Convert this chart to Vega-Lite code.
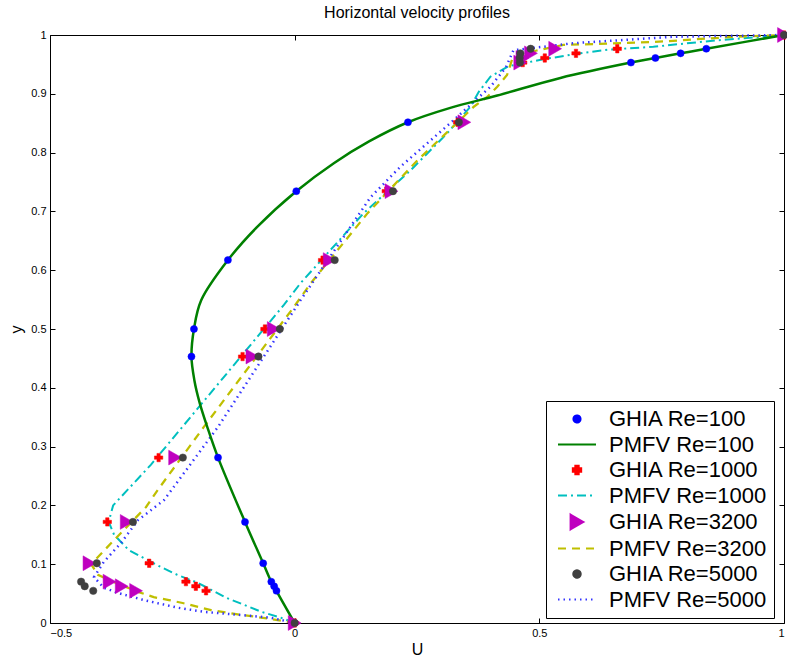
{
  "$schema": "https://vega.github.io/schema/vega-lite/v6.json",
  "width": 734,
  "height": 588,
  "autosize": {"type": "none"},
  "padding": {"left": 50, "top": 35, "right": 3, "bottom": 41},
  "background": "white",
  "title": {"text": "Horizontal velocity profiles", "fontSize": 16, "fontWeight": "normal", "font": "Liberation Sans", "color": "black", "offset": 6, "anchor": "middle"},
  "config": {
    "font": "Liberation Sans",
    "view": {"stroke": "black", "strokeWidth": 1},
    "axis": {"labelFont": "Liberation Sans", "labelFontSize": 11, "labelColor": "black", "tickColor": "black", "tickWidth": 1, "domain": false, "grid": false, "titleFont": "Liberation Sans", "titleFontWeight": "normal", "titleFontSize": 16, "titleColor": "black"},
    "legend": {"symbolStrokeWidth": 2}
  },
  "datasets": {
    "ghia": [
      {"s": "GHIA Re=100", "y": 1.0, "u": 1.0},
      {"s": "GHIA Re=100", "y": 0.9766, "u": 0.84123},
      {"s": "GHIA Re=100", "y": 0.9688, "u": 0.78871},
      {"s": "GHIA Re=100", "y": 0.9609, "u": 0.73722},
      {"s": "GHIA Re=100", "y": 0.9531, "u": 0.68717},
      {"s": "GHIA Re=100", "y": 0.8516, "u": 0.23151},
      {"s": "GHIA Re=100", "y": 0.7344, "u": 0.00332},
      {"s": "GHIA Re=100", "y": 0.6172, "u": -0.13641},
      {"s": "GHIA Re=100", "y": 0.5, "u": -0.20581},
      {"s": "GHIA Re=100", "y": 0.4531, "u": -0.2109},
      {"s": "GHIA Re=100", "y": 0.2813, "u": -0.15662},
      {"s": "GHIA Re=100", "y": 0.1719, "u": -0.1015},
      {"s": "GHIA Re=100", "y": 0.1016, "u": -0.06434},
      {"s": "GHIA Re=100", "y": 0.0703, "u": -0.04775},
      {"s": "GHIA Re=100", "y": 0.0625, "u": -0.04192},
      {"s": "GHIA Re=100", "y": 0.0547, "u": -0.03717},
      {"s": "GHIA Re=100", "y": 0.0, "u": 0.0},
      {"s": "GHIA Re=1000", "y": 1.0, "u": 1.0},
      {"s": "GHIA Re=1000", "y": 0.9766, "u": 0.65928},
      {"s": "GHIA Re=1000", "y": 0.9688, "u": 0.57492},
      {"s": "GHIA Re=1000", "y": 0.9609, "u": 0.51117},
      {"s": "GHIA Re=1000", "y": 0.9531, "u": 0.46604},
      {"s": "GHIA Re=1000", "y": 0.8516, "u": 0.33304},
      {"s": "GHIA Re=1000", "y": 0.7344, "u": 0.18719},
      {"s": "GHIA Re=1000", "y": 0.6172, "u": 0.05702},
      {"s": "GHIA Re=1000", "y": 0.5, "u": -0.0608},
      {"s": "GHIA Re=1000", "y": 0.4531, "u": -0.10648},
      {"s": "GHIA Re=1000", "y": 0.2813, "u": -0.27805},
      {"s": "GHIA Re=1000", "y": 0.1719, "u": -0.38289},
      {"s": "GHIA Re=1000", "y": 0.1016, "u": -0.2973},
      {"s": "GHIA Re=1000", "y": 0.0703, "u": -0.2222},
      {"s": "GHIA Re=1000", "y": 0.0625, "u": -0.20196},
      {"s": "GHIA Re=1000", "y": 0.0547, "u": -0.18109},
      {"s": "GHIA Re=1000", "y": 0.0, "u": 0.0},
      {"s": "GHIA Re=3200", "y": 1.0, "u": 1.0},
      {"s": "GHIA Re=3200", "y": 0.9766, "u": 0.53236},
      {"s": "GHIA Re=3200", "y": 0.9688, "u": 0.48296},
      {"s": "GHIA Re=3200", "y": 0.9609, "u": 0.46547},
      {"s": "GHIA Re=3200", "y": 0.9531, "u": 0.46101},
      {"s": "GHIA Re=3200", "y": 0.8516, "u": 0.34682},
      {"s": "GHIA Re=3200", "y": 0.7344, "u": 0.19791},
      {"s": "GHIA Re=3200", "y": 0.6172, "u": 0.07156},
      {"s": "GHIA Re=3200", "y": 0.5, "u": -0.04272},
      {"s": "GHIA Re=3200", "y": 0.4531, "u": -0.08636},
      {"s": "GHIA Re=3200", "y": 0.2813, "u": -0.24427},
      {"s": "GHIA Re=3200", "y": 0.1719, "u": -0.34323},
      {"s": "GHIA Re=3200", "y": 0.1016, "u": -0.41933},
      {"s": "GHIA Re=3200", "y": 0.0703, "u": -0.37827},
      {"s": "GHIA Re=3200", "y": 0.0625, "u": -0.35344},
      {"s": "GHIA Re=3200", "y": 0.0547, "u": -0.32407},
      {"s": "GHIA Re=3200", "y": 0.0, "u": 0.0},
      {"s": "GHIA Re=5000", "y": 1.0, "u": 1.0},
      {"s": "GHIA Re=5000", "y": 0.9766, "u": 0.48223},
      {"s": "GHIA Re=5000", "y": 0.9688, "u": 0.4612},
      {"s": "GHIA Re=5000", "y": 0.9609, "u": 0.45992},
      {"s": "GHIA Re=5000", "y": 0.9531, "u": 0.46036},
      {"s": "GHIA Re=5000", "y": 0.8516, "u": 0.33556},
      {"s": "GHIA Re=5000", "y": 0.7344, "u": 0.20087},
      {"s": "GHIA Re=5000", "y": 0.6172, "u": 0.08183},
      {"s": "GHIA Re=5000", "y": 0.5, "u": -0.03039},
      {"s": "GHIA Re=5000", "y": 0.4531, "u": -0.07404},
      {"s": "GHIA Re=5000", "y": 0.2813, "u": -0.22855},
      {"s": "GHIA Re=5000", "y": 0.1719, "u": -0.3305},
      {"s": "GHIA Re=5000", "y": 0.1016, "u": -0.40435},
      {"s": "GHIA Re=5000", "y": 0.0703, "u": -0.43643},
      {"s": "GHIA Re=5000", "y": 0.0625, "u": -0.42901},
      {"s": "GHIA Re=5000", "y": 0.0547, "u": -0.41165},
      {"s": "GHIA Re=5000", "y": 0.0, "u": 0.0}
    ],
    "green": [
      {"s": "PMFV Re=100", "o": 0, "u": 0.0, "y": 0.0},
      {"s": "PMFV Re=100", "o": 1, "u": -0.0372, "y": 0.0547},
      {"s": "PMFV Re=100", "o": 2, "u": -0.0419, "y": 0.0625},
      {"s": "PMFV Re=100", "o": 3, "u": -0.0478, "y": 0.0703},
      {"s": "PMFV Re=100", "o": 4, "u": -0.0643, "y": 0.1016},
      {"s": "PMFV Re=100", "o": 5, "u": -0.1015, "y": 0.1719},
      {"s": "PMFV Re=100", "o": 6, "u": -0.1566, "y": 0.2813},
      {"s": "PMFV Re=100", "o": 7, "u": -0.178, "y": 0.332},
      {"s": "PMFV Re=100", "o": 8, "u": -0.194, "y": 0.374},
      {"s": "PMFV Re=100", "o": 9, "u": -0.205, "y": 0.413},
      {"s": "PMFV Re=100", "o": 10, "u": -0.2109, "y": 0.4531},
      {"s": "PMFV Re=100", "o": 11, "u": -0.2058, "y": 0.5},
      {"s": "PMFV Re=100", "o": 12, "u": -0.191, "y": 0.549},
      {"s": "PMFV Re=100", "o": 14, "u": -0.1364, "y": 0.6172},
      {"s": "PMFV Re=100", "o": 15, "u": -0.075, "y": 0.675},
      {"s": "PMFV Re=100", "o": 16, "u": 0.0033, "y": 0.7344},
      {"s": "PMFV Re=100", "o": 17, "u": 0.08, "y": 0.782},
      {"s": "PMFV Re=100", "o": 18, "u": 0.152, "y": 0.819},
      {"s": "PMFV Re=100", "o": 19, "u": 0.2315, "y": 0.8516},
      {"s": "PMFV Re=100", "o": 20, "u": 0.318, "y": 0.876},
      {"s": "PMFV Re=100", "o": 21, "u": 0.414, "y": 0.897},
      {"s": "PMFV Re=100", "o": 22, "u": 0.543, "y": 0.927},
      {"s": "PMFV Re=100", "o": 23, "u": 0.6872, "y": 0.9531},
      {"s": "PMFV Re=100", "o": 24, "u": 0.7372, "y": 0.9609},
      {"s": "PMFV Re=100", "o": 25, "u": 0.7887, "y": 0.9688},
      {"s": "PMFV Re=100", "o": 26, "u": 0.8412, "y": 0.9766},
      {"s": "PMFV Re=100", "o": 27, "u": 1.0, "y": 1.0}
    ],
    "pmfv": [
      {"s": "PMFV Re=1000", "o": 0, "u": 0.0, "y": 0.0},
      {"s": "PMFV Re=1000", "o": 1, "u": -0.028, "y": 0.009},
      {"s": "PMFV Re=1000", "o": 2, "u": -0.068, "y": 0.019},
      {"s": "PMFV Re=1000", "o": 3, "u": -0.14, "y": 0.043},
      {"s": "PMFV Re=1000", "o": 4, "u": -0.197, "y": 0.068},
      {"s": "PMFV Re=1000", "o": 5, "u": -0.24, "y": 0.082},
      {"s": "PMFV Re=1000", "o": 6, "u": -0.273, "y": 0.095},
      {"s": "PMFV Re=1000", "o": 7, "u": -0.339, "y": 0.124},
      {"s": "PMFV Re=1000", "o": 8, "u": -0.369, "y": 0.15},
      {"s": "PMFV Re=1000", "o": 9, "u": -0.38, "y": 0.172},
      {"s": "PMFV Re=1000", "o": 10, "u": -0.371, "y": 0.2},
      {"s": "PMFV Re=1000", "o": 11, "u": -0.294, "y": 0.269},
      {"s": "PMFV Re=1000", "o": 12, "u": -0.022, "y": 0.541},
      {"s": "PMFV Re=1000", "o": 13, "u": 0.012, "y": 0.578},
      {"s": "PMFV Re=1000", "o": 14, "u": 0.141, "y": 0.697},
      {"s": "PMFV Re=1000", "o": 15, "u": 0.237, "y": 0.77},
      {"s": "PMFV Re=1000", "o": 16, "u": 0.312, "y": 0.833},
      {"s": "PMFV Re=1000", "o": 17, "u": 0.359, "y": 0.878},
      {"s": "PMFV Re=1000", "o": 18, "u": 0.376, "y": 0.903},
      {"s": "PMFV Re=1000", "o": 19, "u": 0.4, "y": 0.929},
      {"s": "PMFV Re=1000", "o": 20, "u": 0.437, "y": 0.947},
      {"s": "PMFV Re=1000", "o": 21, "u": 0.51, "y": 0.959},
      {"s": "PMFV Re=1000", "o": 22, "u": 0.584, "y": 0.969},
      {"s": "PMFV Re=1000", "o": 23, "u": 0.639, "y": 0.975},
      {"s": "PMFV Re=1000", "o": 24, "u": 0.733, "y": 0.98},
      {"s": "PMFV Re=1000", "o": 25, "u": 0.863, "y": 0.991},
      {"s": "PMFV Re=1000", "o": 26, "u": 1.0, "y": 1.0},
      {"s": "PMFV Re=3200", "o": 0, "u": 0.0, "y": 0.0},
      {"s": "PMFV Re=3200", "o": 1, "u": -0.049, "y": 0.007},
      {"s": "PMFV Re=3200", "o": 2, "u": -0.11, "y": 0.014},
      {"s": "PMFV Re=3200", "o": 3, "u": -0.171, "y": 0.022},
      {"s": "PMFV Re=3200", "o": 4, "u": -0.229, "y": 0.034},
      {"s": "PMFV Re=3200", "o": 5, "u": -0.257, "y": 0.039},
      {"s": "PMFV Re=3200", "o": 6, "u": -0.288, "y": 0.044},
      {"s": "PMFV Re=3200", "o": 7, "u": -0.32, "y": 0.053},
      {"s": "PMFV Re=3200", "o": 8, "u": -0.371, "y": 0.07},
      {"s": "PMFV Re=3200", "o": 9, "u": -0.402, "y": 0.082},
      {"s": "PMFV Re=3200", "o": 10, "u": -0.416, "y": 0.1},
      {"s": "PMFV Re=3200", "o": 11, "u": -0.392, "y": 0.121},
      {"s": "PMFV Re=3200", "o": 12, "u": -0.369, "y": 0.141},
      {"s": "PMFV Re=3200", "o": 13, "u": -0.304, "y": 0.197},
      {"s": "PMFV Re=3200", "o": 14, "u": -0.28, "y": 0.226},
      {"s": "PMFV Re=3200", "o": 15, "u": -0.186, "y": 0.333},
      {"s": "PMFV Re=3200", "o": 16, "u": -0.002, "y": 0.537},
      {"s": "PMFV Re=3200", "o": 17, "u": 0.033, "y": 0.578},
      {"s": "PMFV Re=3200", "o": 18, "u": 0.149, "y": 0.697},
      {"s": "PMFV Re=3200", "o": 19, "u": 0.251, "y": 0.787},
      {"s": "PMFV Re=3200", "o": 20, "u": 0.345, "y": 0.861},
      {"s": "PMFV Re=3200", "o": 21, "u": 0.366, "y": 0.878},
      {"s": "PMFV Re=3200", "o": 22, "u": 0.394, "y": 0.895},
      {"s": "PMFV Re=3200", "o": 23, "u": 0.414, "y": 0.912},
      {"s": "PMFV Re=3200", "o": 24, "u": 0.434, "y": 0.932},
      {"s": "PMFV Re=3200", "o": 25, "u": 0.445, "y": 0.96},
      {"s": "PMFV Re=3200", "o": 26, "u": 0.496, "y": 0.974},
      {"s": "PMFV Re=3200", "o": 27, "u": 0.549, "y": 0.983},
      {"s": "PMFV Re=3200", "o": 28, "u": 0.733, "y": 0.988},
      {"s": "PMFV Re=3200", "o": 29, "u": 0.9, "y": 0.997},
      {"s": "PMFV Re=3200", "o": 30, "u": 1.0, "y": 1.0},
      {"s": "PMFV Re=5000", "o": 0, "u": 0.0, "y": 0.0},
      {"s": "PMFV Re=5000", "o": 1, "u": -0.049, "y": 0.009},
      {"s": "PMFV Re=5000", "o": 2, "u": -0.116, "y": 0.014},
      {"s": "PMFV Re=5000", "o": 3, "u": -0.186, "y": 0.019},
      {"s": "PMFV Re=5000", "o": 4, "u": -0.239, "y": 0.026},
      {"s": "PMFV Re=5000", "o": 5, "u": -0.308, "y": 0.039},
      {"s": "PMFV Re=5000", "o": 6, "u": -0.361, "y": 0.051},
      {"s": "PMFV Re=5000", "o": 7, "u": -0.39, "y": 0.06},
      {"s": "PMFV Re=5000", "o": 8, "u": -0.41, "y": 0.078},
      {"s": "PMFV Re=5000", "o": 9, "u": -0.39, "y": 0.104},
      {"s": "PMFV Re=5000", "o": 10, "u": -0.355, "y": 0.136},
      {"s": "PMFV Re=5000", "o": 11, "u": -0.32, "y": 0.175},
      {"s": "PMFV Re=5000", "o": 12, "u": -0.267, "y": 0.209},
      {"s": "PMFV Re=5000", "o": 13, "u": -0.157, "y": 0.333},
      {"s": "PMFV Re=5000", "o": 14, "u": 0.012, "y": 0.549},
      {"s": "PMFV Re=5000", "o": 15, "u": 0.155, "y": 0.724},
      {"s": "PMFV Re=5000", "o": 16, "u": 0.216, "y": 0.776},
      {"s": "PMFV Re=5000", "o": 17, "u": 0.318, "y": 0.85},
      {"s": "PMFV Re=5000", "o": 18, "u": 0.4, "y": 0.912},
      {"s": "PMFV Re=5000", "o": 19, "u": 0.431, "y": 0.944},
      {"s": "PMFV Re=5000", "o": 20, "u": 0.447, "y": 0.974},
      {"s": "PMFV Re=5000", "o": 21, "u": 0.569, "y": 0.986},
      {"s": "PMFV Re=5000", "o": 22, "u": 0.773, "y": 0.997},
      {"s": "PMFV Re=5000", "o": 23, "u": 1.0, "y": 1.0}
    ]
  },
  "layer": [
    {
      "data": {"name": "pmfv"},
      "mark": {"type": "line", "interpolate": "linear"},
      "encoding": {
        "x": {"field": "u", "type": "quantitative", "scale": {"domain": [-0.5, 1], "nice": false, "zero": false}, "axis": null},
        "y": {"field": "y", "type": "quantitative", "scale": {"domain": [0, 1], "nice": false, "zero": false}, "axis": null},
        "order": {"field": "o", "type": "quantitative"},
        "color": {"field": "s", "type": "nominal", "scale": {"domain": ["GHIA Re=100", "PMFV Re=100", "GHIA Re=1000", "PMFV Re=1000", "GHIA Re=3200", "PMFV Re=3200", "GHIA Re=5000", "PMFV Re=5000"], "range": ["#0000ff", "#008000", "#ff0000", "#00bfbf", "#bf00bf", "#bfbf00", "#404040", "#3333ff"]}},
        "strokeDash": {"field": "s", "type": "nominal", "scale": {"domain": ["GHIA Re=100", "PMFV Re=100", "GHIA Re=1000", "PMFV Re=1000", "GHIA Re=3200", "PMFV Re=3200", "GHIA Re=5000", "PMFV Re=5000"], "range": [[1, 0], [1, 0], [1, 0], [9, 4, 2, 4], [1, 0], [8, 6], [1, 0], [1.5, 4]]}},
        "strokeWidth": {"field": "s", "type": "nominal", "scale": {"domain": ["PMFV Re=1000", "PMFV Re=3200", "PMFV Re=5000"], "range": [2, 2.5, 1.5]}, "legend": null}
      }
    },
    {
      "data": {"name": "green"},
      "mark": {"type": "line", "interpolate": "catmull-rom", "strokeWidth": 2.5},
      "encoding": {
        "x": {"field": "u", "type": "quantitative", "scale": {"domain": [-0.5, 1], "nice": false, "zero": false}, "axis": {"orient": "top", "values": [-0.5, 0, 0.5, 1], "labels": false, "title": null, "offset": -5, "tickSize": 5}},
        "y": {"field": "y", "type": "quantitative", "scale": {"domain": [0, 1], "nice": false, "zero": false}, "axis": {"orient": "right", "values": [0, 0.1, 0.2, 0.3, 0.4, 0.5, 0.6, 0.7, 0.8, 0.9, 1], "labels": false, "title": null, "offset": -5, "tickSize": 5}},
        "order": {"field": "o", "type": "quantitative"},
        "color": {"field": "s", "type": "nominal"}
      }
    },
    {
      "data": {"name": "ghia"},
      "mark": {"type": "point", "filled": true, "opacity": 1, "strokeWidth": 0.5},
      "encoding": {
        "x": {"field": "u", "type": "quantitative", "scale": {"domain": [-0.5, 1], "nice": false, "zero": false}, "axis": {"orient": "bottom", "values": [-0.5, 0, 0.5, 1], "format": "~g", "title": "U", "offset": -5, "tickSize": 5, "labelPadding": 4, "titlePadding": 3}},
        "y": {"field": "y", "type": "quantitative", "scale": {"domain": [0, 1], "nice": false, "zero": false}, "axis": {"orient": "left", "values": [0, 0.1, 0.2, 0.3, 0.4, 0.5, 0.6, 0.7, 0.8, 0.9, 1], "format": "~g", "title": "y", "offset": -5, "tickSize": 5, "labelPadding": 4, "titlePadding": 6}},
        "color": {"field": "s", "type": "nominal", "legend": {
          "title": null, "orient": "none", "legendX": 496, "legendY": 366, "padding": 7,
          "strokeColor": "black", "fillColor": "white", "cornerRadius": 0,
          "labelFont": "Liberation Sans", "labelFontSize": 22, "labelColor": "black", "labelLimit": 400,
          "symbolSize": 361, "symbolOffset": 13, "labelOffset": 21, "rowPadding": 3.5, "symbolStrokeWidth": 2
        }},
        "stroke": {"field": "s", "type": "nominal", "scale": {"domain": ["GHIA Re=100", "PMFV Re=100", "GHIA Re=1000", "PMFV Re=1000", "GHIA Re=3200", "PMFV Re=3200", "GHIA Re=5000", "PMFV Re=5000"], "range": ["#0000ff", "#008000", "#ff0000", "#00bfbf", "#bf00bf", "#bfbf00", "#404040", "#3333ff"]}},
        "shape": {"field": "s", "type": "nominal", "scale": {"domain": ["GHIA Re=100", "PMFV Re=100", "GHIA Re=1000", "PMFV Re=1000", "GHIA Re=3200", "PMFV Re=3200", "GHIA Re=5000", "PMFV Re=5000"], "range": ["circle", "M-2,0L2,0", "cross", "M-2,0L2,0", "triangle-right", "M-2,0L2,0", "circle", "M-2,0L2,0"]}},
        "size": {"field": "s", "type": "nominal", "scale": {"type": "ordinal", "domain": ["GHIA Re=100", "PMFV Re=100", "GHIA Re=1000", "PMFV Re=1000", "GHIA Re=3200", "PMFV Re=3200", "GHIA Re=5000", "PMFV Re=5000"], "range": [50, 361, 70, 361, 220, 361, 55, 361]}}
      }
    }
  ],
  "resolve": {"axis": {"x": "independent", "y": "independent"}}
}
